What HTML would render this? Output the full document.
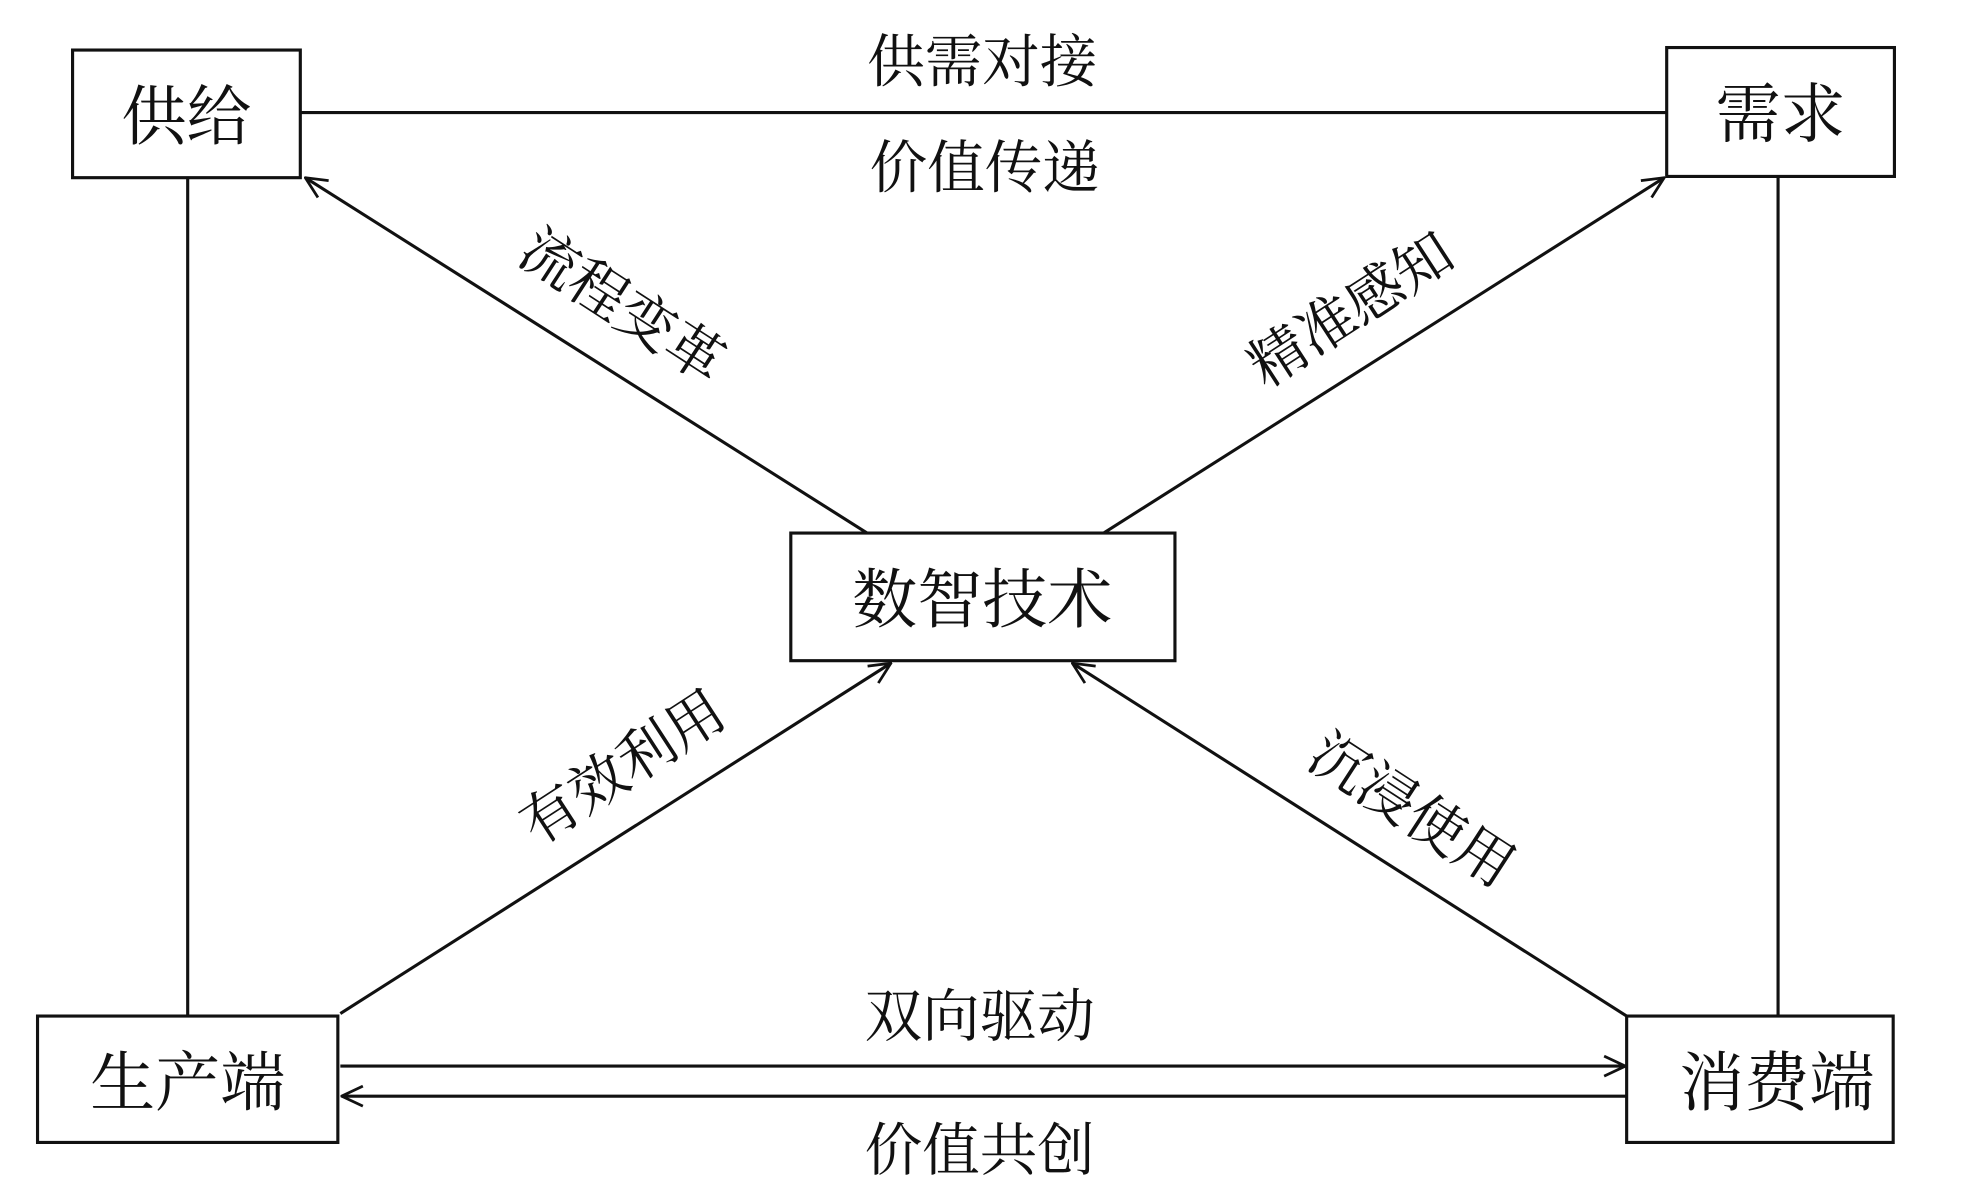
<!DOCTYPE html>
<html><head><meta charset="utf-8"><style>
html,body{margin:0;padding:0;background:#fff;}
svg{display:block;}
text{font-family:"Liberation Serif","Noto Serif CJK SC",serif;fill:#111;}
</style></head><body>
<svg width="1962" height="1200" viewBox="0 0 1568 959" preserveAspectRatio="none" xmlns="http://www.w3.org/2000/svg">
<defs>
<marker id="a" viewBox="0 0 20 20" refX="19" refY="10" markerWidth="20" markerHeight="20" markerUnits="userSpaceOnUse" orient="auto">
<path d="M2,2 L19,10 L2,18" fill="none" stroke="#111" stroke-width="2.2"/>
</marker>
</defs>
<g fill="#fff" stroke="#111" stroke-width="2.5">
<rect x="58" y="40" width="182" height="102"/>
<rect x="1332" y="38" width="182" height="103"/>
<rect x="632" y="426" width="307" height="102"/>
<rect x="30" y="812" width="240" height="101"/>
<rect x="1300" y="812" width="213" height="101"/>
</g>
<g stroke="#111" stroke-width="2.5" fill="none">
<line x1="240" y1="90" x2="1332" y2="90"/>
<line x1="150" y1="142" x2="150" y2="812"/>
<line x1="1421" y1="141" x2="1421" y2="812"/>
<line x1="693" y1="426" x2="244" y2="142" marker-end="url(#a)"/>
<line x1="882" y1="426" x2="1330" y2="142" marker-end="url(#a)"/>
<line x1="272" y1="810" x2="712" y2="530" marker-end="url(#a)"/>
<line x1="1300" y1="812" x2="857" y2="530" marker-end="url(#a)"/>
<line x1="272" y1="852" x2="1299" y2="852" marker-end="url(#a)"/>
<line x1="1300" y1="876" x2="273" y2="876" marker-end="url(#a)"/>
</g>
<g font-size="52" text-anchor="middle">
<text x="149" y="111">供给</text>
<text x="1423" y="109">需求</text>
<text x="785" y="497">数智技术</text>
<text x="150" y="883">生产端</text>
<text x="1420" y="883">消费端</text>
</g>
<g font-size="46" text-anchor="middle">
<text x="785" y="65">供需对接</text>
<text x="787" y="150">价值传递</text>
<text x="783" y="828">双向驱动</text>
<text x="783" y="935">价值共创</text>
<text transform="translate(497,245) rotate(33)" x="0" y="15">流程变革</text>
<text transform="translate(1080,248) rotate(-33)" x="0" y="15">精准感知</text>
<text transform="translate(498,614) rotate(-33)" x="0" y="15">有效利用</text>
<text transform="translate(1128,648) rotate(33)" x="0" y="15">沉浸使用</text>
</g>
</svg>
</body></html>
